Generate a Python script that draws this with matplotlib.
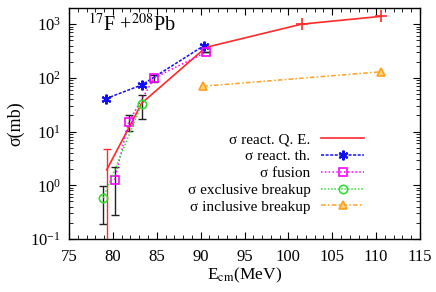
import matplotlib
matplotlib.use("Agg")
import matplotlib.pyplot as plt
import numpy as np
from matplotlib.ticker import LogLocator, MultipleLocator, NullFormatter

plt.rcParams['font.family'] = ['Liberation Serif', 'DejaVu Serif']
plt.rcParams['mathtext.fontset'] = 'stix'

# sigma react. Q.E.
qe_x = [79.3, 83.3, 90.6, 101.5, 110.6]
qe_y = [1.95, 34, 370, 1000, 1400]
qe_err_lo = [1.94, 0, 0, 0, 0]
qe_err_hi = [2.8, 0, 0, 0, 0]

# sigma react. th.
th_x = [79.2, 83.3, 90.4]
th_y = [41, 74, 400]

# sigma fusion
fu_x = [80.2, 81.8, 84.7, 90.6]
fu_y = [1.27, 15, 100, 300]
fu_lo = [0.28, 10.2, 85, 300]
fu_hi = [2.15, 20.5, 115, 300]

# sigma exclusive breakup
ex_x = [78.9, 83.3]
ex_y = [0.58, 33]
ex_lo = [0.19, 17.5]
ex_hi = [0.97, 48]

# sigma inclusive breakup
in_x = [90.3, 110.6]
in_y = [70, 130]

fig = plt.figure(figsize=(4.36, 2.92), dpi=100)
ax = fig.add_axes([69/436, 1-239/292, (420-69)/436, (239-8)/292])

red = '#ff2a2a'
ax.plot(qe_x, qe_y, '-', color=red, lw=1.2, label='σ react. Q. E.', zorder=3)
ax.plot(qe_x[3:], qe_y[3:], linestyle='none', color=red, marker='+', ms=8, mew=1.2, zorder=3)
ax.errorbar(qe_x[:1], qe_y[:1], yerr=[qe_err_lo[:1], qe_err_hi[:1]], fmt='none',
            ecolor=red, elinewidth=1.0, capsize=3, zorder=3)

ax.plot(th_x, th_y, linestyle=(0, (2, 1)), color='#1010f0', lw=1.1,
        marker=(6, 2, 0), ms=7, mew=1.5, label='σ react. th.', zorder=4)

ax.errorbar(fu_x, fu_y,
            yerr=[np.array(fu_y) - np.array(fu_lo), np.array(fu_hi) - np.array(fu_y)],
            fmt='none', ecolor='#222222', elinewidth=1.0, capsize=3, zorder=2)
ax.plot(fu_x, fu_y, linestyle=(0, (1, 1.5)), color='#ff00ff', lw=1.1,
        marker='s', ms=6, mfc='none', mec='#ff00ff', mew=1.2,
        label='σ fusion', zorder=4)

ax.errorbar(ex_x, ex_y,
            yerr=[np.array(ex_y) - np.array(ex_lo), np.array(ex_hi) - np.array(ex_y)],
            fmt='none', ecolor='#222222', elinewidth=1.0, capsize=3, zorder=2)
ax.plot(ex_x, ex_y, linestyle=(0, (1, 1.2)), color='#33e033', lw=1.1,
        marker='o', ms=6, mfc='none', mec='#33dd33', mew=1.2,
        label='σ exclusive breakup', zorder=4)

ax.plot(in_x, in_y, linestyle=(0, (3, 1.5, 1, 1.5)), color='#ffa020', lw=1.1,
        marker='^', ms=6, mfc='#ffd070', mec='#ffa020', mew=1.2,
        label='σ inclusive breakup', zorder=4)

ax.set_yscale('log')
ax.set_xlim(75, 115)
ax.set_ylim(0.1, 2000)
ax.xaxis.set_major_locator(MultipleLocator(5))
ax.xaxis.set_minor_locator(MultipleLocator(1))
ax.yaxis.set_major_locator(LogLocator(base=10, numticks=10))
ax.yaxis.set_minor_locator(LogLocator(base=10, subs=np.arange(2, 10), numticks=20))
ax.yaxis.set_minor_formatter(NullFormatter())
ax.tick_params(which='both', direction='in', top=True, right=True, labelsize=12)
ax.tick_params(axis='x', which='major', pad=7)
ax.tick_params(axis='y', which='major', pad=6)
ax.tick_params(which='major', length=5)
ax.tick_params(which='minor', length=3)
for s in ax.spines.values():
    s.set_linewidth(1.0)

ax.set_xlabel(r'E$_{\rm cm}$(MeV)', fontsize=12.5, labelpad=1)
ax.set_ylabel('σ(mb)', fontsize=13, labelpad=4)

ax.text(0.055, 0.975, r'$^{17}$F +$^{208}$Pb', transform=ax.transAxes,
        ha='left', va='top', fontsize=14.5)

leg = ax.legend(loc='lower right', markerfirst=False, frameon=False, fontsize=11,
                handlelength=2.8, labelspacing=0.2, handletextpad=0.7,
                bbox_to_anchor=(0.858, 0.083), borderaxespad=0)

fig.savefig('out.png', dpi=100)
